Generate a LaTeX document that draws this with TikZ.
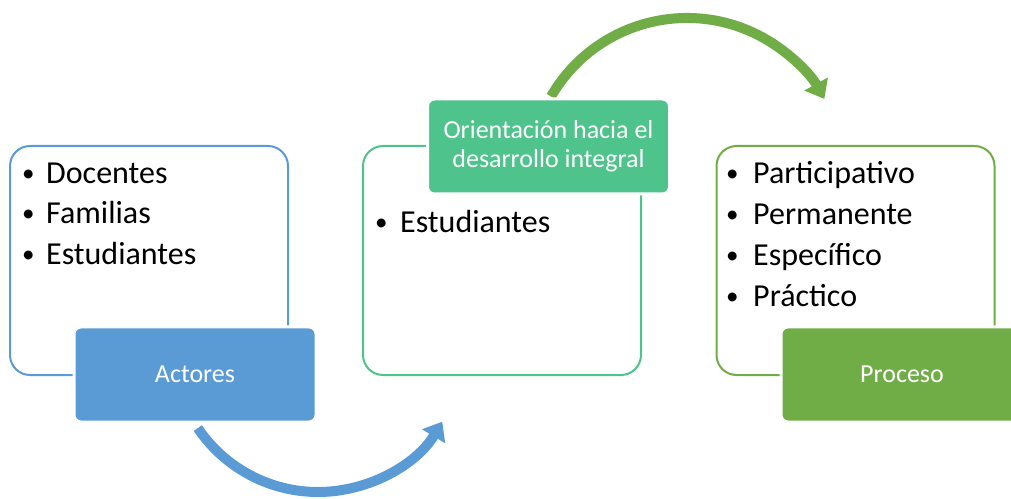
\documentclass[tikz,border=0pt]{standalone}
\usepackage{fontspec}
\setmainfont{Carlito}
\usetikzlibrary{arrows.meta,calc}
\definecolor{cblue}{HTML}{5B9BD5}
\definecolor{cteal}{HTML}{4EC48C}
\definecolor{cgreen}{HTML}{70AD47}
\newcommand{\mybul}[1]{\makebox[#1][l]{\hspace{1pt}\raisebox{2pt}{\fontsize{25}{25}\selectfont •}}}
\tikzset{
  outbox/.style={draw=#1, line width=2pt, rounded corners=20pt, fill=white,
    minimum width=278pt, minimum height=229pt, inner sep=0pt},
  fillbox/.style={draw=white, line width=3pt, fill=#1, rounded corners=7pt,
    minimum width=242pt, minimum height=95pt, inner sep=0pt, text=white,
    font=\fontsize{26}{29}\selectfont, align=center},
  item/.style={anchor=base west, inner sep=0pt, font=\fontsize{32}{40}\selectfont},
  bigarrow/.style={draw=#1, line width=10pt, -{Triangle[width=26pt,length=17pt]}}
}
\begin{document}
\begin{tikzpicture}[x=1pt,y=1pt]
\useasboundingbox (0,0) rectangle (1011,498);
% arrows (behind boxes)
\coordinate (a1) at ($(318,151)+(214:145)$);
\coordinate (a2) at ($(687,323)+(150:157)$);
\draw[bigarrow=cblue] (a1) arc[start angle=214, end angle=329, radius=145];
\draw[bigarrow=cgreen] (a2) arc[start angle=150, end angle=29, radius=157];
% outline boxes
\node[outbox=cblue] (b1) at (149,237.5) {};
\node[outbox=cteal] (b2) at (502,237.5) {};
\node[outbox=cgreen] (b3) at (855.5,237.5) {};
% items
\node[item] (d1) at (21,314) {\mybul{25pt}Docentes};
\node[item] (d2) at (21,274) {\mybul{25pt}Familias};
\node[item] (d3) at (21,233) {\mybul{25pt}Estudiantes};
\node[item] (e1) at (374,265) {\mybul{26pt}Estudiantes};
\node[item] (p1) at (725,314) {\mybul{28pt}Participativo};
\node[item] (p2) at (725,273) {\mybul{28pt}Permanente};
\node[item] (p3) at (725,232) {\mybul{28pt}Específico};
\node[item] (p4) at (725,191) {\mybul{28pt}Práctico};
% filled label boxes
\node[fillbox=cblue] (act) at (195,123.5) {Actores};
\node[fillbox=cteal] (ori) at (548.5,351.5) {Orientación hacia el\\desarrollo integral};
\node[fillbox=cgreen] (pro) at (902,123.5) {Proceso};
\end{tikzpicture}
\end{document}
